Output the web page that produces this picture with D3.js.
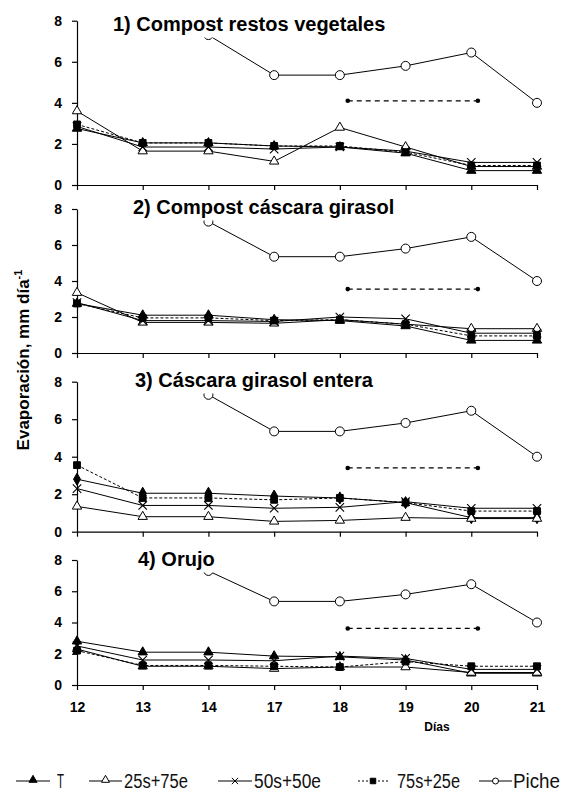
<!DOCTYPE html>
<html>
<head>
<meta charset="utf-8">
<script src="https://cdn.jsdelivr.net/npm/d3@7"></script>
<style>
  body { margin: 0; background: #fff; }
  svg { display: block; font-family: "Liberation Sans", Arial, sans-serif; }
  .axis path, .axis line { stroke: #000; stroke-width: 1.2; }
  .axis text { font-family: "Liberation Sans", Arial, sans-serif; font-weight: bold; font-size: 14px; fill: #000; }
  .legend text { font-family: "Liberation Sans", Arial, sans-serif; font-size: 20px; fill: #111; }
</style>
</head>
<body>
<svg id="chart" width="562" height="794"></svg>
<script>
// day labels on the x axis (equally spaced categories)
const days = [12, 13, 14, 17, 18, 19, 20, 21];
const panelTitles = [
  "1) Compost restos vegetales",
  "2) Compost cáscara girasol",
  "3) Cáscara girasol entera",
  "4) Orujo"
];
const seriesNames = ["T", "25s+75e", "50s+50e", "75s+25e", "Piche"];

// values per panel (mm día-1)
const serieT = [
  [2.75, 2.05, 2.05, 1.9, 1.85, 1.55, 0.7, 0.7],
  [2.75, 2.1, 2.1, 1.85, 1.8, 1.5, 0.7, 0.7],
  [2.8, 2.05, 2.05, 1.9, 1.8, 1.55, 0.75, 0.75],
  [2.8, 2.1, 2.1, 1.85, 1.8, 1.6, 0.75, 0.75]
];
const serie25 = [
  [3.6, 1.65, 1.65, 1.15, 2.8, 1.85, 0.9, 0.9],
  [3.35, 1.7, 1.7, 1.65, 1.85, 1.6, 1.35, 1.35],
  [1.35, 0.8, 0.8, 0.55, 0.6, 0.75, 0.7, 0.7],
  [2.3, 1.2, 1.2, 1.05, 1.15, 1.15, 0.8, 0.8]
];
const serie50 = [
  [2.85, 1.85, 1.85, 1.75, 1.85, 1.65, 1.1, 1.1],
  [2.8, 1.8, 1.8, 1.75, 2.0, 1.9, 1.1, 1.1],
  [2.3, 1.4, 1.4, 1.25, 1.3, 1.6, 1.25, 1.25],
  [2.5, 1.6, 1.6, 1.55, 1.85, 1.7, 1.0, 1.0]
];
const serie75 = [
  [2.95, 2.05, 2.05, 1.9, 1.9, 1.6, 0.95, 0.95],
  [2.75, 1.95, 1.95, 1.8, 1.85, 1.6, 0.95, 0.95],
  [3.55, 1.8, 1.8, 1.7, 1.8, 1.55, 1.1, 1.1],
  [2.2, 1.25, 1.25, 1.2, 1.15, 1.5, 1.2, 1.2]
];
const piche = [null, null, 7.3, 5.35, 5.35, 5.8, 6.45, 4.0];

// dashed reference segment: level per panel, spanning day-index positions
const refValues = [4.1, 3.55, 3.4, 3.62];
const refSpan = [4.12, 6.1];
const tMarkers = ["triangle", "triangle", "diamond", "triangle"];
const yTicks = [0, 2, 4, 6, 8];

const svg = d3.select("#chart");
const x = d3.scaleLinear().domain([0, days.length - 1]).range([77, 537]);

const layout = [
  { top: 20.7, bottom: 185, titleX: 113, titleY: 31 },
  { top: 209, bottom: 353, titleX: 133, titleY: 214 },
  { top: 381.7, bottom: 531.7, titleX: 135, titleY: 387 },
  { top: 560, bottom: 685, titleX: 138, titleY: 566 }
];

const symbols = {
  triangle: d3.symbol().type(d3.symbolTriangle).size(38)(),
  diamond: d3.symbol().type(d3.symbolDiamond).size(42)(),
  square: d3.symbol().type(d3.symbolSquare).size(46)(),
  cross: d3.symbol().type(d3.symbolX).size(48)()
};

function drawSeries(g, y, values, opts) {
  const pts = values.map((v, i) => ({ i, v })).filter((d) => d.v != null);
  const line = d3.line().x((d) => x(d.i)).y((d) => y(d.v));
  g.append("path")
    .datum(pts)
    .attr("fill", "none")
    .attr("stroke", "#000")
    .attr("stroke-width", 1)
    .attr("stroke-dasharray", opts.dash || null)
    .attr("d", line);
  const m = g.append("g");
  pts.forEach((d) => {
    if (opts.marker === "circle") {
      m.append("circle").attr("cx", x(d.i)).attr("cy", y(d.v)).attr("r", 4.5)
        .attr("fill", "#fff").attr("stroke", "#000").attr("stroke-width", 1);
    } else {
      m.append("path")
        .attr("d", symbols[opts.marker])
        .attr("transform", `translate(${x(d.i)},${y(d.v)})`)
        .attr("fill", opts.fill)
        .attr("stroke", "#000")
        .attr("stroke-width", opts.marker === "cross" ? 1.1 : 1);
    }
  });
}

layout.forEach((p, k) => {
  const y = d3.scaleLinear().domain([0, 8]).range([p.bottom, p.top]);
  const g = svg.append("g");

  g.append("g")
    .attr("class", "axis")
    .attr("transform", `translate(${x(0)},0)`)
    .call(d3.axisLeft(y).tickValues(yTicks).tickSize(5).tickSizeOuter(0).tickPadding(10));

  g.append("g")
    .attr("class", "axis")
    .attr("transform", `translate(0,${p.bottom})`)
    .call(
      d3.axisBottom(x)
        .tickValues(d3.range(days.length))
        .tickSize(5)
        .tickSizeOuter(0)
        .tickPadding(12)
        .tickFormat((i) => (k === 3 ? days[i] : ""))
    );

  drawSeries(g, y, serieT[k], { marker: tMarkers[k], fill: "#000" });
  drawSeries(g, y, serie25[k], { marker: "triangle", fill: "#fff" });
  drawSeries(g, y, serie50[k], { marker: "cross", fill: "none" });
  drawSeries(g, y, serie75[k], { marker: "square", fill: "#000", dash: "3,2" });
  drawSeries(g, y, piche, { marker: "circle" });

  // dashed reference segment with dot ends
  g.append("line")
    .attr("x1", x(refSpan[0])).attr("x2", x(refSpan[1]))
    .attr("y1", y(refValues[k])).attr("y2", y(refValues[k]))
    .attr("stroke", "#000").attr("stroke-width", 1.3)
    .attr("stroke-dasharray", "5,4");
  refSpan.forEach((s) => {
    g.append("circle").attr("cx", x(s)).attr("cy", y(refValues[k])).attr("r", 2.3).attr("fill", "#000");
  });

  // title sits on a white box that hides what runs beneath it
  const box = g.append("rect").attr("fill", "#fff");
  const title = g.append("text")
    .attr("x", p.titleX)
    .attr("y", p.titleY)
    .attr("font-weight", "bold")
    .attr("font-size", 20)
    .text(panelTitles[k]);
  const bb = title.node().getBBox();
  box.attr("x", bb.x - 1).attr("y", bb.y).attr("width", bb.width + 2).attr("height", bb.height + 2.5);
});

// axis titles
svg.append("text")
  .attr("transform", "translate(29,360) rotate(-90)")
  .attr("text-anchor", "middle")
  .attr("font-weight", "bold")
  .attr("font-size", 17)
  .call((t) => {
    t.append("tspan").text("Evaporación, mm  día");
    t.append("tspan").attr("dy", -7).attr("font-size", 11).text("-1");
  });

svg.append("text")
  .attr("x", 437)
  .attr("y", 731)
  .attr("text-anchor", "middle")
  .attr("font-weight", "bold")
  .attr("font-size", 12)
  .text("Días");

// legend (condensed lettering squeezed to the reference widths)
const legendItems = [
  { name: seriesNames[0], x1: 16, x2: 50, tx: 57, tw: 7, marker: "triangle", fill: "#000" },
  { name: seriesNames[1], x1: 89, x2: 122, tx: 124, tw: 64, marker: "triangle", fill: "#fff" },
  { name: seriesNames[2], x1: 218, x2: 252, tx: 254, tw: 67, marker: "cross", fill: "none" },
  { name: seriesNames[3], x1: 358, x2: 388, tx: 397, tw: 63, marker: "square", fill: "#000", dash: "2,2" },
  { name: seriesNames[4], x1: 479, x2: 512, tx: 513, tw: 47, marker: "circle" }
];
const legend = svg.append("g").attr("class", "legend");
const ly = 781;
legendItems.forEach((d) => {
  legend.append("line")
    .attr("x1", d.x1).attr("x2", d.x2).attr("y1", ly).attr("y2", ly)
    .attr("stroke", "#000").attr("stroke-width", 1.2)
    .attr("stroke-dasharray", d.dash || null);
  const cx = (d.x1 + d.x2) / 2;
  if (d.marker === "circle") {
    legend.append("circle").attr("cx", cx).attr("cy", ly).attr("r", 3)
      .attr("fill", "#fff").attr("stroke", "#000");
  } else {
    legend.append("path")
      .attr("d", d3.symbol().type(
        d.marker === "triangle" ? d3.symbolTriangle : d.marker === "square" ? d3.symbolSquare : d3.symbolX
      ).size(d.marker === "square" ? 30 : 28)())
      .attr("transform", `translate(${cx},${ly - (d.marker === "triangle" ? 1 : 0)})`)
      .attr("fill", d.fill)
      .attr("stroke", "#000");
  }
  legend.append("text")
    .attr("x", d.tx)
    .attr("y", 788)
    .attr("textLength", d.tw)
    .attr("lengthAdjust", "spacingAndGlyphs")
    .text(d.name);
});
</script>
</body>
</html>
